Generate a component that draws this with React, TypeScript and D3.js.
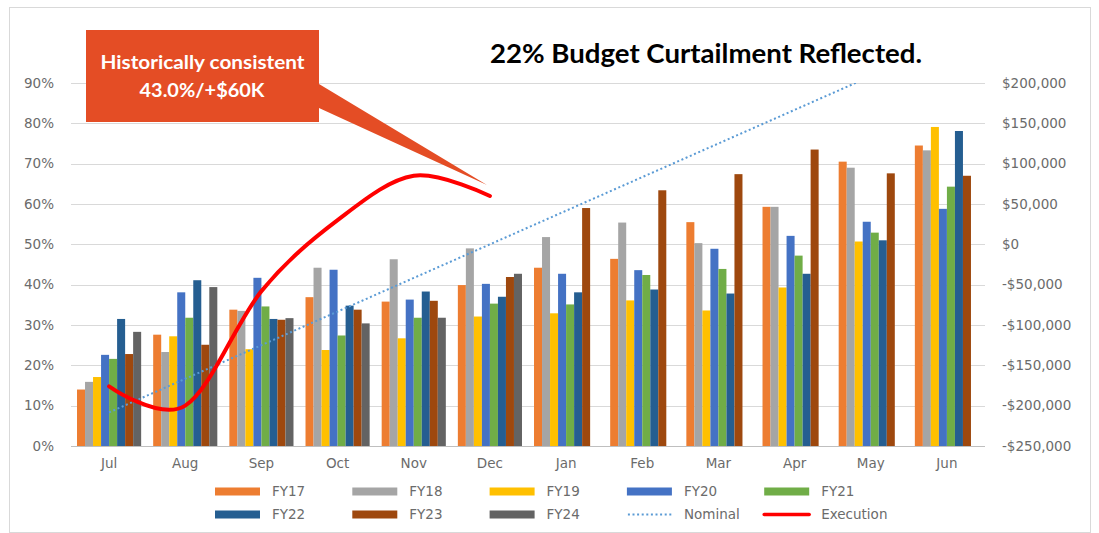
import React from 'react';
import * as d3 from 'd3';

// month categories and series values (share of budget, 0..1)
const months = ['Jul', 'Aug', 'Sep', 'Oct', 'Nov', 'Dec', 'Jan', 'Feb', 'Mar', 'Apr', 'May', 'Jun'];
const fy17 = [0.14, 0.276, 0.338, 0.369, 0.358, 0.399, 0.442, 0.464, 0.555, 0.593, 0.705, 0.745];
const fy18 = [0.159, 0.233, 0.335, 0.442, 0.463, 0.49, 0.518, 0.554, 0.503, 0.593, 0.69, 0.733];
const fy19 = [0.171, 0.272, 0.24, 0.238, 0.267, 0.321, 0.329, 0.361, 0.336, 0.393, 0.507, 0.791];
const fy20 = [0.226, 0.381, 0.417, 0.437, 0.363, 0.402, 0.427, 0.436, 0.489, 0.521, 0.556, 0.588];
const fy21 = [0.216, 0.318, 0.346, 0.274, 0.318, 0.353, 0.351, 0.424, 0.439, 0.472, 0.529, 0.643];
const fy22 = [0.315, 0.411, 0.315, 0.348, 0.383, 0.37, 0.381, 0.388, 0.378, 0.427, 0.51, 0.781];
const fy23 = [0.228, 0.251, 0.313, 0.338, 0.36, 0.419, 0.59, 0.634, 0.674, 0.735, 0.676, 0.67];
const fy24 = [0.283, 0.394, 0.317, 0.304, 0.318, 0.427, null, null, null, null, null, null];
// secondary axis ($)
const nominal = [-208333, -166667, -125000, -83333, -41667, 0, 41667, 83333, 125000, 166667, 208333, 250000];
const execution = [-176000, -200000, -58000, 30000, 85000, 60000];

const seriesNames = ['FY17', 'FY18', 'FY19', 'FY20', 'FY21', 'FY22', 'FY23', 'FY24'];
const seriesColors = ['#ED7D31', '#A5A5A5', '#FFC000', '#4472C4', '#70AD47', '#255E91', '#9E480E', '#636363'];
const leftTicks = [0, 0.1, 0.2, 0.3, 0.4, 0.5, 0.6, 0.7, 0.8, 0.9];
const rightTicks = [-250000, -200000, -150000, -100000, -50000, 0, 50000, 100000, 150000, 200000];

const W = 1099;
const H = 533;
const left = 71, right = 985, top = 83, bottom = 446;
const labelFont = '"DejaVu Sans", sans-serif';
const grey = '#6b6b6b';

export default function App() {
  const series = [fy17, fy18, fy19, fy20, fy21, fy22, fy23, fy24];

  const x = d3.scaleBand().domain(months).range([left, right]).padding(0);
  const xSub = d3.scaleBand().domain(seriesNames).range([0, x.bandwidth()]).paddingInner(0).paddingOuter(0.75);
  const yL = d3.scaleLinear().domain([0, 0.9]).range([bottom, top]);
  const yR = d3.scaleLinear().domain([-250000, 200000]).range([bottom, top]);
  const cx = (m: string) => (x(m) as number) + x.bandwidth() / 2;

  const nominalLine = d3.line<number>()
    .x((_, i) => cx(months[i]))
    .y((d) => yR(d))(nominal);
  const execLine = d3.line<number>()
    .x((_, i) => cx(months[i]))
    .y((d) => yR(d))
    .curve(d3.curveCatmullRom.alpha(0))(execution);

  const fmtMoney = (v: number) => (v < 0 ? '-$' : '$') + d3.format(',')(Math.abs(v));

  // legend entries: 8 bar series then the two lines
  const legend = [
    ...seriesNames.map((n, i) => ({ name: n, kind: 'bar', color: seriesColors[i] })),
    { name: 'Nominal', kind: 'dot', color: '#5B9BD5' },
    { name: 'Execution', kind: 'line', color: '#FF0000' },
  ];

  return (
    <svg width={W} height={H} style={{ position: 'absolute', left: 0, top: 0, display: 'block' }}>
      <rect x={0} y={0} width={W} height={H} fill="#fff" />
      <rect x={9.5} y={7.5} width={1081} height={525} fill="none" stroke="#d9d9d9" />

      {/* gridlines */}
      {leftTicks.map((t) => (
        <line key={t} x1={left} x2={right} y1={Math.round(yL(t)) + 0.5} y2={Math.round(yL(t)) + 0.5}
          stroke={t === 0 ? '#bfbfbf' : '#d9d9d9'} strokeWidth={1} />
      ))}

      {/* bars */}
      {series.map((vals, si) => (
        <g key={seriesNames[si]} fill={seriesColors[si]}>
          {vals.map((v, mi) => v == null ? null : (
            <rect key={mi}
              x={(x(months[mi]) as number) + (xSub(seriesNames[si]) as number)}
              y={yL(v)}
              width={xSub.bandwidth()}
              height={bottom - yL(v)} />
          ))}
        </g>
      ))}

      <defs>
        <clipPath id="plot">
          <rect x={left} y={top} width={right - left} height={bottom - top} />
        </clipPath>
      </defs>
      <path d={nominalLine || ''} fill="none" stroke="#5B9BD5" strokeWidth={2}
        strokeDasharray="2 2.6" clipPath="url(#plot)" />
      <path d={execLine || ''} fill="none" stroke="#FF0000" strokeWidth={4} strokeLinecap="round" />

      {/* axes labels */}
      <g fontFamily={labelFont} fontSize={13.5} fill={grey}>
        {leftTicks.map((t) => (
          <text key={t} x={54} y={yL(t)} dy="0.35em" textAnchor="end">{d3.format('.0%')(t)}</text>
        ))}
        {rightTicks.map((t) => (
          <text key={t} x={1002} y={yR(t)} dy="0.35em">{fmtMoney(t)}</text>
        ))}
        {months.map((m) => (
          <text key={m} x={cx(m)} y={463} dy="0.35em" textAnchor="middle">{m}</text>
        ))}
      </g>

      {/* legend */}
      <g fontFamily={labelFont} fontSize={13.5} fill={grey}>
        {legend.map((d, i) => {
          const lx = 215 + (i % 5) * 137.3;
          const ly = i < 5 ? 491.5 : 514.5;
          return (
            <g key={d.name}>
              {d.kind === 'bar' && <rect x={lx} y={ly - 4} width={45} height={8} fill={d.color} />}
              {d.kind === 'dot' && <line x1={lx + 1} x2={lx + 45} y1={ly} y2={ly} stroke={d.color} strokeWidth={2} strokeDasharray="2 2.6" />}
              {d.kind === 'line' && <line x1={lx} x2={lx + 45} y1={ly} y2={ly} stroke={d.color} strokeWidth={3.5} strokeLinecap="round" />}
              <text x={lx + 57} y={ly} dy="0.35em">{d.name}</text>
            </g>
          );
        })}
      </g>

      {/* callout */}
      <path d="M86,30 L319,30 L319,84 L487,185 L319,108 L319,122 L86,122 Z" fill="#E44D25" />
      <g fontFamily="Lato, sans-serif" fontWeight={700} fontSize={18} fill="#fff">
        <text x={100.5} y={69} textLength={204} lengthAdjust="spacingAndGlyphs">Historically consistent</text>
        <text x={139.5} y={97} textLength={125} lengthAdjust="spacingAndGlyphs">43.0%/+$60K</text>
      </g>

      <text x={490} y={63} fontFamily="Lato, sans-serif" fontWeight={700} fontSize={26} fill="#000"
        textLength={432} lengthAdjust="spacingAndGlyphs">
        22% Budget Curtailment Reflected.
      </text>
    </svg>
  );
}
